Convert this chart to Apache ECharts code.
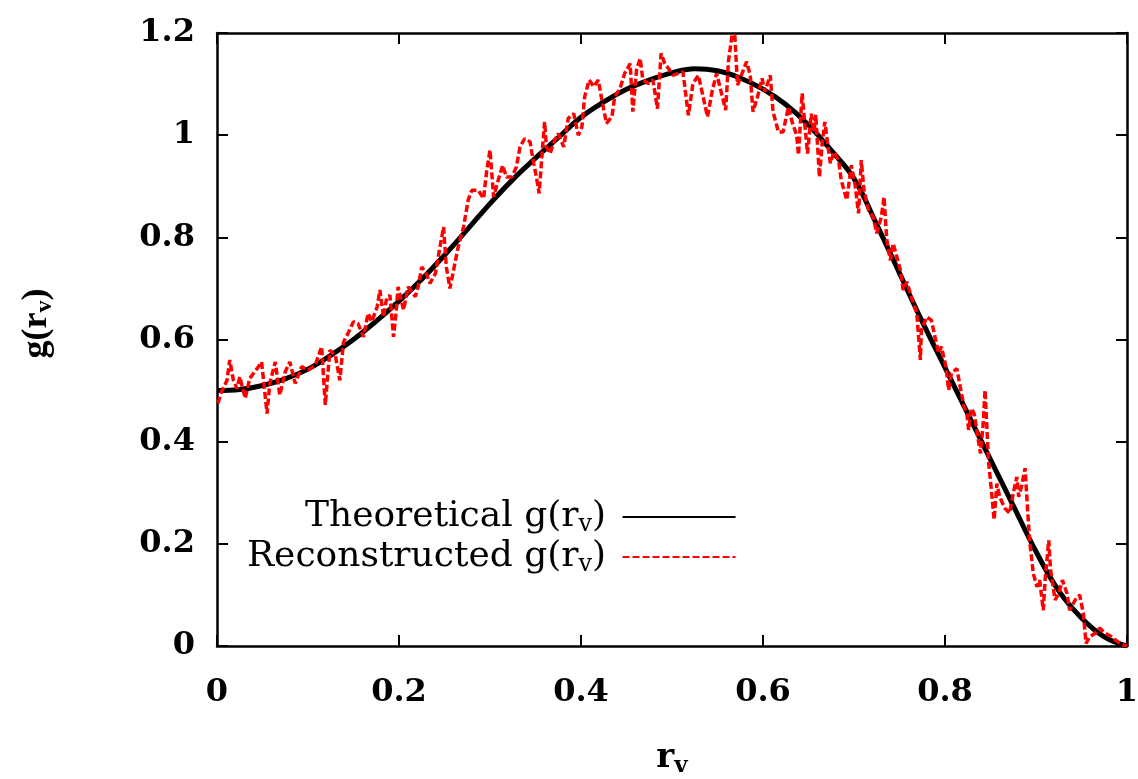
<!DOCTYPE html>
<html>
<head>
<meta charset="utf-8">
<title>g(r_v)</title>
<script src="https://cdn.jsdelivr.net/npm/echarts@6.0.0/dist/echarts.min.js"></script>
<style>
  html, body { margin: 0; padding: 0; background: #fff; }
  #main { width: 1138px; height: 779px; }
</style>
</head>
<body>
<div id="main"></div>
<script>
// theoretical curve
var theoX = [0, 0.025, 0.05, 0.075, 0.1, 0.125, 0.15, 0.175, 0.2, 0.225, 0.25, 0.275, 0.3, 0.325, 0.35, 0.375, 0.4, 0.425, 0.45, 0.475, 0.5, 0.525, 0.55,
  0.575, 0.6, 0.625, 0.65, 0.675, 0.7, 0.725, 0.75, 0.775, 0.8, 0.825, 0.85, 0.875, 0.9, 0.925, 0.95, 0.975, 1];
var theoY = [0.5, 0.502, 0.51, 0.523, 0.542, 0.569, 0.6, 0.636, 0.675, 0.718, 0.765, 0.815, 0.866, 0.913, 0.955, 0.995, 1.035, 1.065, 1.09, 1.108, 1.122, 1.13, 1.126,
  1.112, 1.09, 1.06, 1.02, 0.97, 0.915, 0.825, 0.73, 0.635, 0.545, 0.455, 0.365, 0.275, 0.185, 0.108, 0.055, 0.018, 0];

// reconstructed curve (noisy)
var reconX = [0.001, 0.005, 0.011, 0.014, 0.018, 0.022, 0.025, 0.031, 0.036, 0.044, 0.049, 0.055, 0.058, 0.064, 0.069, 0.075, 0.08, 0.086, 0.093, 0.1,
  0.108, 0.115, 0.119, 0.124, 0.13, 0.135, 0.139, 0.144, 0.15, 0.155, 0.161, 0.166, 0.17, 0.176, 0.179, 0.183, 0.186, 0.19, 0.194, 0.197,
  0.199, 0.205, 0.21, 0.218, 0.221, 0.225, 0.23, 0.234, 0.24, 0.245, 0.249, 0.252, 0.256, 0.26, 0.265, 0.271, 0.276, 0.28, 0.287, 0.293,
  0.296, 0.3, 0.304, 0.309, 0.314, 0.318, 0.324, 0.329, 0.333, 0.338, 0.344, 0.348, 0.351, 0.354, 0.357, 0.36, 0.362, 0.366, 0.371, 0.375,
  0.381, 0.386, 0.392, 0.397, 0.401, 0.404, 0.409, 0.414, 0.419, 0.423, 0.428, 0.434, 0.437, 0.443, 0.448, 0.454, 0.457, 0.461, 0.465, 0.468,
  0.474, 0.479, 0.484, 0.488, 0.492, 0.496, 0.501, 0.507, 0.512, 0.518, 0.523, 0.529, 0.533, 0.539, 0.544, 0.549, 0.554, 0.559, 0.562, 0.566,
  0.569, 0.572, 0.577, 0.582, 0.586, 0.589, 0.594, 0.599, 0.602, 0.608, 0.611, 0.617, 0.622, 0.628, 0.632, 0.637, 0.639, 0.643, 0.646, 0.649,
  0.653, 0.656, 0.658, 0.662, 0.665, 0.668, 0.671, 0.674, 0.678, 0.683, 0.686, 0.692, 0.694, 0.697, 0.701, 0.705, 0.708, 0.711, 0.716, 0.721,
  0.725, 0.73, 0.733, 0.736, 0.74, 0.743, 0.747, 0.751, 0.754, 0.758, 0.763, 0.769, 0.773, 0.774, 0.78, 0.785, 0.789, 0.793, 0.796, 0.801,
  0.804, 0.807, 0.813, 0.816, 0.821, 0.824, 0.826, 0.829, 0.832, 0.836, 0.839, 0.842, 0.844, 0.846, 0.848, 0.851, 0.854, 0.857, 0.86, 0.866,
  0.871, 0.875, 0.879, 0.881, 0.884, 0.888, 0.891, 0.893, 0.897, 0.901, 0.904, 0.908, 0.91, 0.914, 0.916, 0.921, 0.925, 0.929, 0.934, 0.937,
  0.943, 0.948, 0.952, 0.955, 0.959, 0.965, 0.97, 0.976, 0.983, 0.99, 0.996, 1.0];
var reconY = [0.475, 0.498, 0.52, 0.56, 0.52, 0.504, 0.527, 0.485, 0.524, 0.543, 0.556, 0.455, 0.514, 0.556, 0.491, 0.537, 0.556, 0.514, 0.547, 0.54,
  0.55, 0.586, 0.472, 0.579, 0.569, 0.52, 0.595, 0.612, 0.635, 0.631, 0.605, 0.651, 0.635, 0.664, 0.697, 0.644, 0.677, 0.687, 0.605, 0.658,
  0.703, 0.658, 0.703, 0.684, 0.703, 0.742, 0.729, 0.71, 0.729, 0.781, 0.82, 0.742, 0.7, 0.736, 0.781, 0.821, 0.873, 0.892, 0.892, 0.876,
  0.925, 0.971, 0.879, 0.912, 0.941, 0.918, 0.918, 0.938, 0.977, 0.993, 0.987, 0.945, 0.918, 0.886, 0.958, 1.026, 0.977, 0.964, 0.99, 1.003,
  0.977, 1.033, 1.042, 1.0, 1.016, 1.075, 1.108, 1.095, 1.108, 1.068, 1.023, 1.036, 1.075, 1.092, 1.121, 1.14, 1.046, 1.127, 1.15, 1.108,
  1.101, 1.108, 1.052, 1.16, 1.14, 1.131, 1.117, 1.121, 1.124, 1.039, 1.101, 1.117, 1.085, 1.036, 1.085, 1.121, 1.085, 1.049, 1.144, 1.196,
  1.196, 1.098, 1.121, 1.144, 1.117, 1.046, 1.075, 1.111, 1.085, 1.117, 1.046, 1.006, 1.006, 1.055, 1.026, 1.0, 0.961, 1.082, 1.02, 0.964,
  1.042, 1.006, 1.04, 0.918, 0.984, 1.026, 0.984, 0.945, 0.967, 0.951, 0.912, 0.873, 0.899, 0.941, 0.905, 0.847, 0.951, 0.892, 0.853, 0.84,
  0.808, 0.84, 0.879, 0.795, 0.755, 0.788, 0.762, 0.736, 0.697, 0.713, 0.684, 0.651, 0.56, 0.618, 0.644, 0.638, 0.605, 0.573, 0.586, 0.547,
  0.501, 0.534, 0.543, 0.514, 0.468, 0.455, 0.423, 0.465, 0.455, 0.41, 0.377, 0.436, 0.501, 0.429, 0.358, 0.305, 0.247, 0.318, 0.292, 0.269,
  0.26, 0.299, 0.331, 0.292, 0.312, 0.348, 0.26, 0.207, 0.142, 0.116, 0.129, 0.07, 0.129, 0.207, 0.149, 0.09, 0.103, 0.129, 0.103, 0.07,
  0.09, 0.1, 0.064, 0.005, 0.018, 0.025, 0.035, 0.025, 0.018, 0.008, 0.002, 0];

var xTicks = [0, 0.2, 0.4, 0.6, 0.8, 1];
var yTicks = [0, 0.2, 0.4, 0.6, 0.8, 1, 1.2];

function zip(xs, ys) {
  var out = [];
  for (var i = 0; i < xs.length; i++) {
    out.push([xs[i], ys[i]]);
  }
  return out;
}

function tickLabel(list) {
  return function(v) {
    var r = Math.round(v * 10) / 10;
    return list.indexOf(r) >= 0 ? String(r) : '';
  };
}

var FONT = 'DejaVu Serif';
// legend text: regular
var legendRich = {
  t: { fontFamily: FONT, fontSize: 36, color: '#000', lineHeight: 40 },
  sub: { fontFamily: FONT, fontSize: 24, color: '#000', lineHeight: 24, verticalAlign: 'bottom' }
};
// axis names: bold
var nameRichX = {
  t: { fontFamily: FONT, fontWeight: 'bold', fontSize: 34, color: '#000', lineHeight: 40 },
  sub: { fontFamily: FONT, fontWeight: 'bold', fontSize: 23, color: '#000', lineHeight: 23, verticalAlign: 'bottom' }
};
var nameRichY = {
  // p: first chunk, padded so the rotated name sits a little higher like the original
  p: { fontFamily: 'Liberation Serif', fontWeight: 'bold', fontSize: 36, color: '#000', lineHeight: 40, padding: [0, 0, 0, 32] },
  t: { fontFamily: 'Liberation Serif', fontWeight: 'bold', fontSize: 36, color: '#000', lineHeight: 40 },
  sub: { fontFamily: 'Liberation Serif', fontWeight: 'bold', fontSize: 24, color: '#000', lineHeight: 24, verticalAlign: 'bottom' }
};

var tickFont = { fontFamily: FONT, fontWeight: 'bold', fontSize: 32, color: '#000' };

var axisCommon = {
  type: 'value',
  min: 0,
  interval: 0.2,
  splitLine: { show: false },
  axisLine: { show: true, onZero: false, lineStyle: { color: '#000', width: 2.5 } },
  axisTick: { show: true, inside: true, length: 11, lineStyle: { color: '#000', width: 2 } }
};

var myChart = echarts.init(document.getElementById('main'), null, { renderer: 'canvas' });

var option = {
  backgroundColor: '#fff',
  animation: false,
  grid: { left: 217, right: 11, top: 33, bottom: 133, containLabel: false, outerBoundsMode: 'none' },
  legend: {
    orient: 'vertical',
    align: 'right',
    left: 247,
    top: 499,
    padding: 0,
    itemGap: 2,
    itemWidth: 113,
    itemHeight: 20,
    itemStyle: { opacity: 0 },
    data: ['Theoretical', 'Reconstructed'],
    formatter: function(name) {
      return '{t|' + name + ' g(r}{sub|v}{t|) }';
    },
    textStyle: { rich: legendRich }
  },
  xAxis: [
    Object.assign({}, axisCommon, {
      max: 1,
      position: 'bottom',
      name: '{t|r}{sub|v}',
      nameLocation: 'middle',
      nameGap: 92,
      nameTextStyle: { rich: nameRichX },
      axisLabel: Object.assign({ margin: 31, formatter: tickLabel(xTicks) }, tickFont)
    }),
    Object.assign({}, axisCommon, {
      max: 1,
      position: 'top',
      axisLabel: { show: false }
    })
  ],
  yAxis: [
    Object.assign({}, axisCommon, {
      max: 1.2,
      position: 'left',
      name: '{p|g(r}{sub|v}{t|)}',
      nameLocation: 'middle',
      nameRotate: 90,
      nameGap: 160,
      nameTextStyle: { rich: nameRichY },
      axisLabel: Object.assign({ margin: 22, formatter: tickLabel(yTicks) }, tickFont)
    }),
    Object.assign({}, axisCommon, {
      max: 1.2,
      position: 'right',
      axisLabel: { show: false }
    })
  ],
  series: [
    {
      name: 'Theoretical',
      type: 'line',
      smooth: 0.4,
      symbol: 'none',
      z: 3,
      lineStyle: { color: '#000', width: 5 },
      itemStyle: { color: '#000' },
      data: zip(theoX, theoY)
    },
    {
      name: 'Reconstructed',
      type: 'line',
      symbol: 'none',
      z: 4,
      lineStyle: { color: '#ff0000', width: 3.5, type: [7, 3] },
      itemStyle: { color: '#ff0000' },
      data: zip(reconX, reconY)
    }
  ]
};

myChart.setOption(option);
</script>
</body>
</html>
